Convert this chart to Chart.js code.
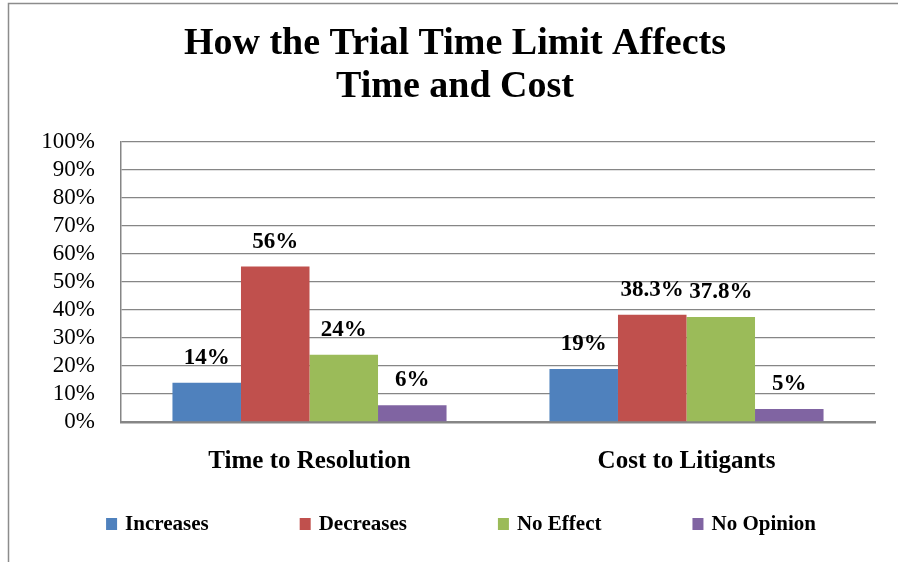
<!DOCTYPE html>
<html>
<head>
<meta charset="utf-8">
<script src="https://cdn.jsdelivr.net/npm/chart.js@4.4.1/dist/chart.umd.min.js"></script>
<style>
  html, body { margin: 0; padding: 0; background: #fff; }
  #wrap { width: 898px; height: 562px; }
</style>
</head>
<body>
<div id="wrap"><canvas id="chart" width="898" height="562"></canvas></div>
<script>
    // data
    const categories = ['Time to Resolution', 'Cost to Litigants'];
    const increases = [14, 18.9];
    const decreases = [55.5, 38.3];
    const noEffect = [24, 37.5];
    const noOpinion = [6, 4.6];

    const increasesText = ['14%', '19%'];
    const decreasesText = ['56%', '38.3%'];
    const noEffectText = ['24%', '37.8%'];
    const noOpinionText = ['6%', '5%'];

    const titleLines = ['How the Trial Time Limit Affects', 'Time and Cost'];
    const serif = '"Liberation Serif", "Times New Roman", serif';
    const gridGray = '#868686';

    // white page + the grey frame on the left and top
    const framePlugin = {
      id: 'frame',
      beforeDraw(chart) {
        const ctx = chart.ctx;
        ctx.save();
        ctx.fillStyle = '#fff';
        ctx.fillRect(0, 0, chart.width, chart.height);
        ctx.strokeStyle = '#8c8c8c';
        ctx.lineWidth = 1.5;
        ctx.beginPath();
        ctx.moveTo(8.5, chart.height);
        ctx.lineTo(8.5, 3.5);
        ctx.lineTo(chart.width, 3.5);
        ctx.stroke();
        ctx.restore();
      }
    };

    // values above every bar
    const valueLabels = {
      id: 'valueLabels',
      afterDatasetsDraw(chart) {
        const ctx = chart.ctx;
        ctx.save();
        ctx.font = 'bold 23px ' + serif;
        ctx.fillStyle = '#000';
        ctx.textAlign = 'center';
        ctx.textBaseline = 'alphabetic';
        chart.data.datasets.forEach((ds, i) => {
          chart.getDatasetMeta(i).data.forEach((bar, j) => {
            ctx.fillText(ds.valueText[j], bar.x, bar.y - 19);
          });
        });
        ctx.restore();
      }
    };

    // legend row at the bottom, wide gaps like the original
    const bottomLegend = {
      id: 'bottomLegend',
      afterDraw(chart) {
        const ctx = chart.ctx;
        const gap = 91, box = 11, boxGap = 8, midY = 525;
        ctx.save();
        ctx.font = 'bold 21px ' + serif;
        ctx.textBaseline = 'middle';
        ctx.textAlign = 'left';
        const items = chart.data.datasets.map(ds => ({
          label: ds.label, color: ds.backgroundColor,
          w: box + boxGap + ctx.measureText(ds.label).width
        }));
        const total = items.reduce((s, it) => s + it.w, 0) + gap * (items.length - 1);
        let x = 461 - total / 2;
        items.forEach(it => {
          ctx.fillStyle = it.color;
          ctx.fillRect(x, midY - 7, box, 12);
          ctx.fillStyle = '#000';
          ctx.fillText(it.label, x + box + boxGap, midY);
          x += it.w + gap;
        });
        ctx.restore();
      }
    };

    new Chart(document.getElementById('chart'), {
      type: 'bar',
      data: {
        labels: categories,
        datasets: [
          { label: 'Increases', data: increases, valueText: increasesText, backgroundColor: '#4F81BD' },
          { label: 'Decreases', data: decreases, valueText: decreasesText, backgroundColor: '#C0504D' },
          { label: 'No Effect', data: noEffect, valueText: noEffectText, backgroundColor: '#9BBB59' },
          { label: 'No Opinion', data: noOpinion, valueText: noOpinionText, backgroundColor: '#8064A2' }
        ]
      },
      options: {
        responsive: false,
        animation: false,
        layout: { padding: { left: 35, right: 23, top: 0, bottom: 0 } },
        datasets: { bar: { categoryPercentage: 0.727, barPercentage: 1 } },
        plugins: {
          legend: { display: false },
          tooltip: { enabled: false },
          title: {
            display: true,
            text: titleLines,
            color: '#000',
            font: { family: serif, size: 38, weight: 'bold', lineHeight: 43 / 38 },
            padding: { top: 23, bottom: 33 }
          }
        },
        scales: {
          x: {
            grid: { display: false, drawTicks: false },
            border: { display: true, color: gridGray, width: 2.5 },
            ticks: { color: '#000', font: { family: serif, size: 25, weight: 'bold' }, padding: 25 },
            afterFit(scale) { scale.height = 140; }
          },
          y: {
            min: 0,
            max: 100,
            ticks: {
              stepSize: 10,
              autoSkip: false,
              color: '#000',
              font: { family: serif, size: 23 },
              padding: 26,
              callback: v => v + '%'
            },
            grid: { color: gridGray, lineWidth: 1.3, drawTicks: false },
            border: { display: true, color: gridGray, width: 1.5 },
            afterFit(scale) { scale.width = 86; }
          }
        }
      },
      plugins: [framePlugin, valueLabels, bottomLegend]
    });
</script>
</body>
</html>
